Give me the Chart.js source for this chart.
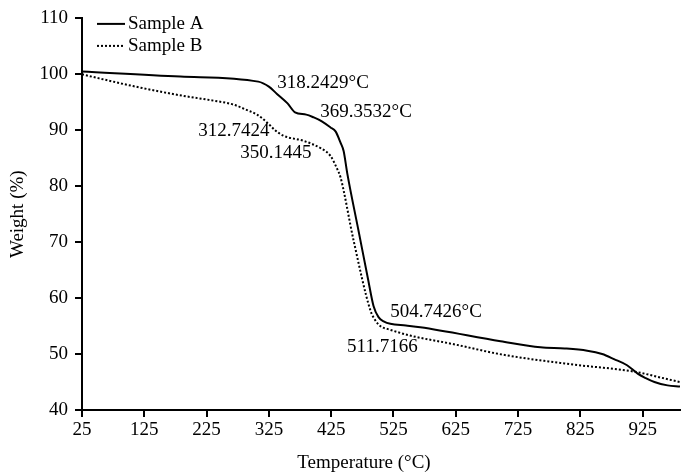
<!DOCTYPE html>
<html lang="en">
<head>
<meta charset="UTF-8">
<title>TGA</title>
<script src="https://cdn.jsdelivr.net/npm/chart.js"></script>
<style>
  body { margin: 0; background: #fff; }
</style>
</head>
<body>
<canvas id="tga" width="683" height="472"></canvas>
<script>
// values
const tempA   = [25, 183, 308, 325, 338, 355, 367, 385, 397, 410, 424, 432, 440, 445, 451, 469, 484, 493, 501, 510, 520, 545, 568, 697, 761, 800, 836, 860, 879, 900, 917, 930, 944, 965, 985];
const weightA = [100.5, 99.6, 98.7, 97.8, 96.5, 94.8, 93.2, 92.8, 92.3, 91.6, 90.5, 89.8, 87.8, 86.3, 82.2, 72, 63.5, 58.6, 56.6, 55.8, 55.4, 55.1, 54.8, 52.3, 51.2, 51.0, 50.6, 50.0, 49.1, 48.0, 46.5, 45.7, 45.0, 44.4, 44.2];

const tempB   = [25, 107, 185, 236, 268, 290, 306, 322, 335, 349, 381, 408, 424, 435, 440, 461, 488, 496, 505, 515, 552, 620, 700, 804, 917, 950, 985];
const weightB = [100.0, 97.9, 96.2, 95.3, 94.6, 93.6, 92.8, 91.4, 90.0, 89.0, 88.1, 86.8, 85.4, 83.0, 81.6, 70.3, 57.8, 56.0, 54.9, 54.5, 53.3, 51.8, 49.9, 48.25, 46.75, 45.9, 45.0];

const xTicks = [25, 125, 225, 325, 425, 525, 625, 725, 825, 925];

const noteTexts   = ['318.2429°C', '369.3532°C', '312.7424', '350.1445', '504.7426°C', '511.7166'];
const noteTemps   = [338.5, 407.6, 211.5, 279, 520, 450.6];
const noteWeights = [98.5, 93.2, 89.9, 86.0, 57.5, 51.3];

const FONT = '19px "Liberation Serif", "Times New Roman", serif';

const zip = (xs, ys) => xs.map((x, i) => ({ x: x, y: ys[i] }));

// legend drawn inside the plot, top left
const innerLegend = {
  id: 'innerLegend',
  afterDraw(chart) {
    const c = chart.ctx, a = chart.chartArea;
    c.save();
    c.font = FONT;
    c.fillStyle = '#000';
    c.textBaseline = 'middle';
    chart.data.datasets.forEach((ds, i) => {
      const y = a.top + 5.5 + i * 22;
      c.beginPath();
      c.strokeStyle = '#000';
      c.lineWidth = 2;
      c.setLineDash(ds.borderDash || []);
      c.moveTo(a.left + 15, y);
      c.lineTo(a.left + 43, y);
      c.stroke();
      c.setLineDash([]);
      c.fillText(ds.label, a.left + 46, y);
    });
    c.restore();
  }
};

// peak temperature labels
const notes = {
  id: 'notes',
  afterDraw(chart) {
    const c = chart.ctx, sx = chart.scales.x, sy = chart.scales.y;
    c.save();
    c.font = FONT;
    c.fillStyle = '#000';
    c.textAlign = 'left';
    c.textBaseline = 'middle';
    noteTexts.forEach((t, i) => {
      c.fillText(t, sx.getPixelForValue(noteTemps[i]), sy.getPixelForValue(noteWeights[i]));
    });
    c.restore();
  }
};

// axis titles
const axisTitles = {
  id: 'axisTitles',
  afterDraw(chart) {
    const c = chart.ctx, a = chart.chartArea;
    c.save();
    c.font = FONT;
    c.fillStyle = '#000';
    c.textAlign = 'center';
    c.textBaseline = 'middle';
    c.fillText('Temperature (°C)', 364, 463);
    c.translate(18.5, (a.top + a.bottom) / 2);
    c.rotate(-Math.PI / 2);
    c.fillText('Weight (%)', 0, 0);
    c.restore();
  }
};

const axisStyle = {
  grid: { drawOnChartArea: false, drawTicks: true, tickLength: 7, color: '#000', lineWidth: 2 },
  border: { color: '#000', width: 2 }
};

new Chart(document.getElementById('tga'), {
  type: 'line',
  data: {
    datasets: [{
      label: 'Sample A',
      data: zip(tempA, weightA),
      borderColor: '#000',
      borderWidth: 2,
      pointRadius: 0,
      cubicInterpolationMode: 'monotone'
    }, {
      label: 'Sample B',
      data: zip(tempB, weightB),
      borderColor: '#000',
      borderWidth: 2,
      borderDash: [2, 2],
      pointRadius: 0,
      cubicInterpolationMode: 'monotone'
    }]
  },
  options: {
    responsive: false,
    animation: false,
    layout: { padding: { top: 17.5, right: 3 } },
    plugins: { legend: { display: false }, tooltip: { enabled: false } },
    scales: {
      x: {
        type: 'linear',
        min: 25,
        max: 985,
        ...axisStyle,
        afterBuildTicks: s => { s.ticks = xTicks.map(v => ({ value: v })); },
        afterFit: s => { s.height = 62; },
        ticks: { color: '#000', font: { family: '"Liberation Serif"', size: 19 }, padding: 2, maxRotation: 0, autoSkip: false }
      },
      y: {
        min: 40,
        max: 110,
        ...axisStyle,
        afterFit: s => { s.width = 82; },
        ticks: { stepSize: 10, color: '#000', font: { family: '"Liberation Serif"', size: 19 }, padding: 7 }
      }
    }
  },
  plugins: [innerLegend, notes, axisTitles]
});
</script>
</body>
</html>
